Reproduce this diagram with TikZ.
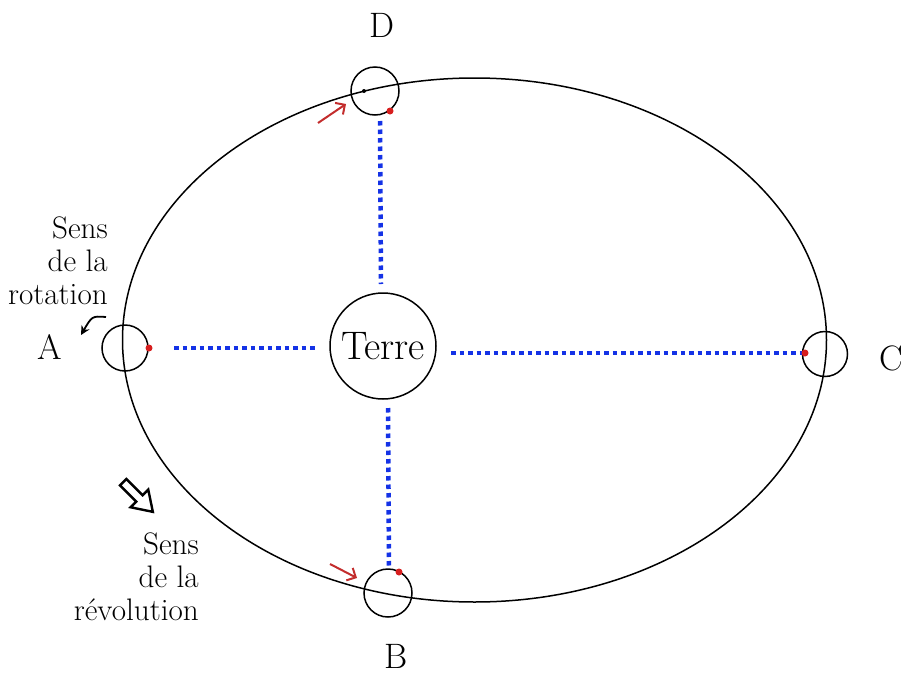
\documentclass[tikz,border=0pt]{standalone}
\usepackage{graphicx}
\usetikzlibrary{arrows.meta}
\begin{document}
\begin{tikzpicture}[x=1pt,y=-1pt,
  orb/.style={circle,draw,line width=1.5pt,minimum size=48pt,inner sep=0pt},
  bluedot/.style={draw={rgb,255:red,20;green,50;blue,230},line width=4.5pt,dash pattern=on 4.5pt off 4pt},
  reddot/.style={fill={rgb,255:red,215;green,30;blue,30}},
  redarrow/.style={draw={rgb,255:red,195;green,45;blue,45},line width=2pt,-{Straight Barb[length=7pt,width=14pt]}},
  biglabel/.style={font=\fontsize{24.88}{30}\selectfont,inner sep=0pt,scale=1.42,transform shape},
  smalllabel/.style={font=\fontsize{20.74}{22}\selectfont,align=right,inner sep=0pt,anchor=north east,scale=1.5,transform shape}]
\useasboundingbox (0,0) rectangle (906,675);
% orbit
\draw[line width=1.5pt] (474.5,340) ellipse [x radius=352pt, y radius=262pt];
% Earth
\node[circle,draw,line width=1.5pt,minimum size=106pt,inner sep=0pt] (T) at (383,346) {\scalebox{1.6}{\fontsize{24.88}{30}\selectfont Terre}};
% positions
\node[orb] (D) at (375,91) {};
\node[orb,minimum size=46pt] (A) at (125,348) {};
\node[orb] (B) at (388,593) {};
\node[orb,minimum size=45pt] (C) at (825,354) {};
% dotted lines
\coordinate (d1) at (380,121);
\coordinate (d2) at (381,284);
\coordinate (b1) at (388,408);
\coordinate (b2) at (389,569);
\coordinate (a1) at (174,348);
\coordinate (a2) at (318,348);
\coordinate (c1) at (451,353);
\coordinate (c2) at (802,353);
\draw[bluedot] (d1) -- (d2);
\draw[bluedot] (b1) -- (b2);
\draw[bluedot] (a1) -- (a2);
\draw[bluedot] (c1) -- (c2);
% red dots
\fill[reddot] (390,111) circle (3.5pt);
\fill[reddot] (149,348) circle (3.5pt);
\fill[reddot] (399,572) circle (3.5pt);
\fill[reddot] (805,353) circle (3.5pt);
\fill (364,91) circle (2pt);
% red arrows
\coordinate (ra1) at (318,123);
\coordinate (ra2) at (346,104);
\draw[redarrow] (ra1) -- (ra2);
\coordinate (rb1) at (330,564);
\coordinate (rb2) at (357,578);
\draw[redarrow] (rb1) -- (rb2);
% rotation arrow
\coordinate (r1) at (106,317);
\coordinate (r2) at (81,335);
\draw[line width=1.8pt,-{Stealth[length=9pt,width=9pt]}] (r1) .. controls (92,316) .. (r2);
% revolution hollow arrow
\begin{scope}[shift={(138,497)},rotate=-45]
\draw[line width=2.4pt,line join=miter,fill=white] (-21,-4.5) -- (2,-4.5) -- (2,-12.5) -- (21,0) -- (2,12.5) -- (2,4.5) -- (-21,4.5) -- cycle;
\end{scope}
% labels
\node[biglabel] (LA) at (50,347) {A};
\node[biglabel] (LD) at (382,25) {D};
\node[biglabel] (LB) at (396,656) {B};
\node[biglabel] (LC) at (891,358) {C};
\node[smalllabel] (rot) at (108,216) {Sens\\de la\\rotation};
\node[smalllabel] (rev) at (199,532) {Sens\\de la\\révolution};
\end{tikzpicture}
\end{document}
